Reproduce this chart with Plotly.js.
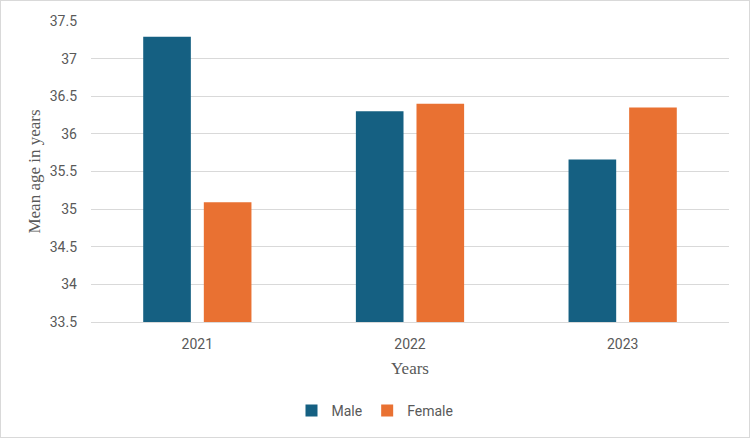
<!DOCTYPE html>
<html>
<head>
<meta charset="utf-8">
<script src="https://cdn.plot.ly/plotly-3.0.1.min.js"></script>
<style>
  body { margin: 0; background: #fff; }
  #chart { width: 748px; height: 436px; border: 1px solid #d9d9d9; }
</style>
</head>
<body>
<div id="chart"></div>
<script>
// values
var years = ['2021', '2022', '2023'];
var male = [37.29, 36.30, 35.66];
var female = [35.09, 36.40, 36.35];
var yTicks = [33.5, 34, 34.5, 35, 35.5, 36, 36.5, 37, 37.5];
var yTickText = ['33.5', '34', '34.5', '35', '35.5', '36', '36.5', '37', '37.5'];

var trace1 = {
  x: years,
  y: male,
  type: 'bar',
  name: 'Male',
  marker: { color: '#156082' }
};

var trace2 = {
  x: years,
  y: female,
  type: 'bar',
  name: 'Female',
  marker: { color: '#E97132' }
};

var layout = {
  width: 748,
  height: 436,
  margin: { l: 90, r: 20, t: 18, b: 115 },
  paper_bgcolor: '#ffffff',
  plot_bgcolor: '#ffffff',
  barmode: 'group',
  bargap: 0.43,
  bargroupgap: 0.214,
  font: { family: 'Roboto, "Liberation Sans", sans-serif', size: 14, color: '#595959' },
  xaxis: {
    title: { text: 'Years', font: { family: '"Liberation Serif", serif', size: 17, color: '#595959' }, standoff: 11 },
    automargin: false,
    showgrid: false,
    showline: true,
    linecolor: '#d9d9d9',
    linewidth: 1,
    ticks: '',
    ticklabelstandoff: 9,
    tickfont: { size: 14, color: '#595959' }
  },
  yaxis: {
    title: { text: 'Mean age in years', font: { family: '"Liberation Serif", serif', size: 17, color: '#595959' }, standoff: 4 },
    automargin: true,
    range: [33.5, 37.5],
    tickvals: yTicks,
    ticktext: yTickText,
    showgrid: true,
    gridcolor: '#d9d9d9',
    gridwidth: 1,
    zeroline: false,
    ticks: '',
    ticklabelstandoff: 13,
    tickfont: { size: 14, color: '#595959' }
  },
  legend: {
    orientation: 'h',
    x: 0.5,
    xref: 'container',
    xanchor: 'center',
    y: 0.06,
    yref: 'container',
    yanchor: 'middle',
    font: { size: 14, color: '#595959' },
    itemwidth: 30,
    traceorder: 'normal'
  },
  showlegend: true
};

Plotly.newPlot('chart', [trace1, trace2], layout, { displayModeBar: false, staticPlot: true });
</script>
</body>
</html>
